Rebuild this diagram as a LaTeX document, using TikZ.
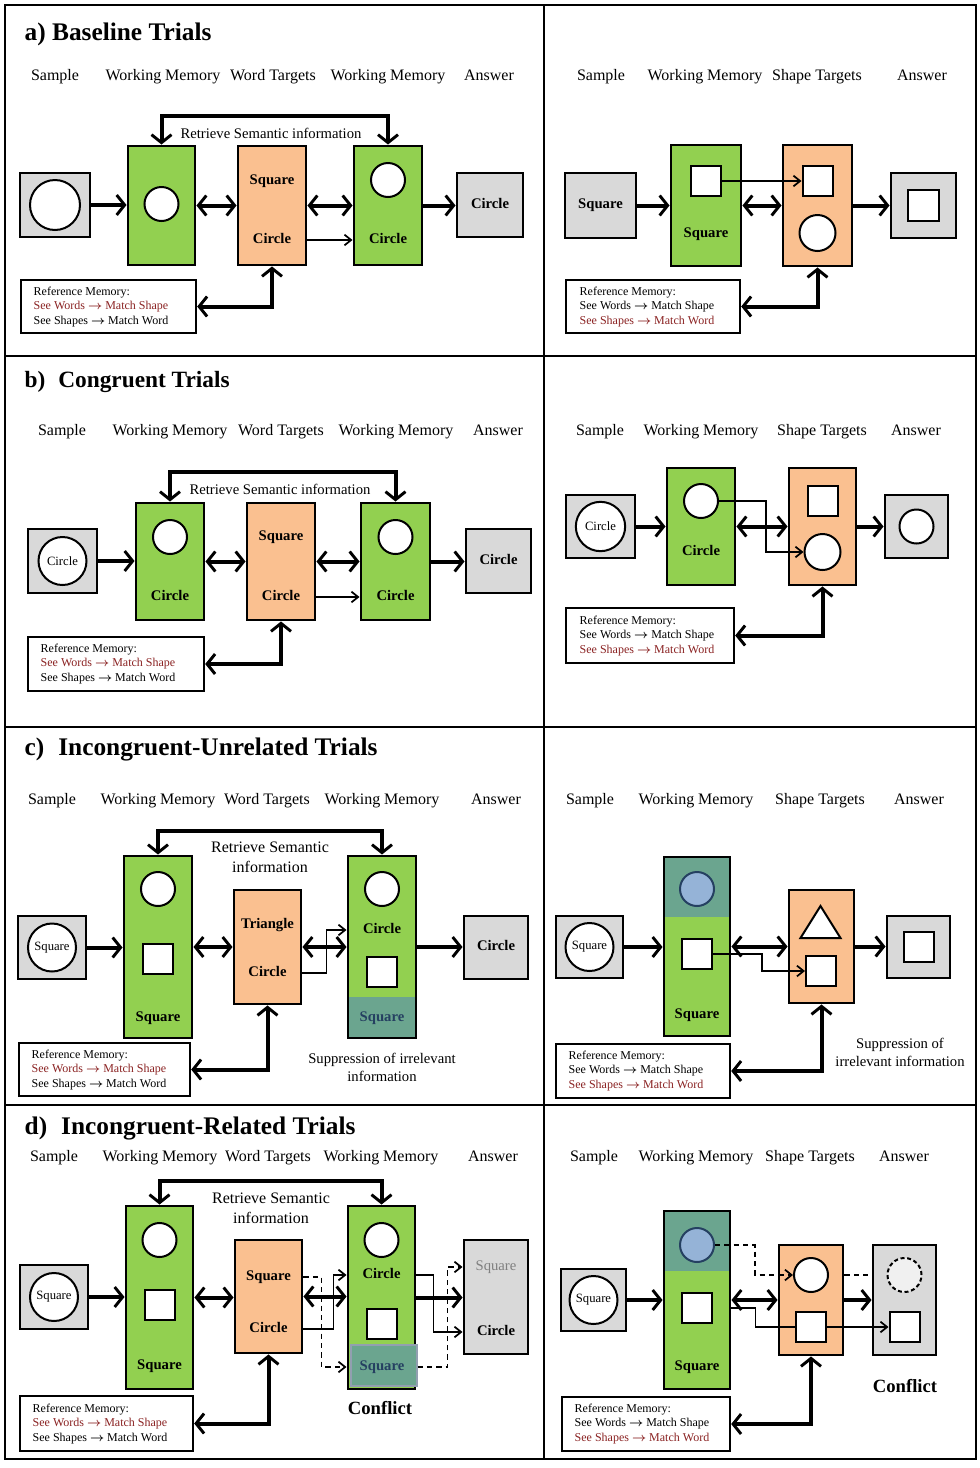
\documentclass[tikz,border=0pt]{standalone}
\usepackage{fontspec}
\setmainfont{Liberation Serif}
\usetikzlibrary{arrows.meta,fit}

\definecolor{wmgreen}{HTML}{92D050}
\definecolor{tgorange}{HTML}{FAC090}
\definecolor{iogray}{HTML}{D9D9D9}
\definecolor{supteal}{HTML}{6BA58F}
\definecolor{memblue}{HTML}{95B3D7}
\definecolor{deepblue}{HTML}{254061}
\definecolor{refred}{HTML}{8B2323}
\definecolor{faintgray}{HTML}{F0F0F0}
\newcommand\goesto{{\boldmath$\rightarrow$}}

\begin{document}
\begin{tikzpicture}[x=0.75pt, y=-0.75pt,
    frame/.style={line width=2.2pt},
    box/.style={draw, line width=2.2pt, inner sep=0pt},
    wm/.style={box, fill=wmgreen},
    tg/.style={box, fill=tgorange},
    io/.style={box, fill=iogray},
    supp/.style={fill=supteal, inner sep=0pt},
    mem/.style={draw, line width=1.8pt, fill=white, inner sep=0pt},
    shp/.style={draw, line width=1.5pt, fill=white, inner sep=0pt},
    circ/.style={shp, circle, minimum size=25.5pt},
    sqr/.style={shp, minimum size=22.5pt},
    smp/.style={shp, circle, minimum size=36pt, font=\fontsize{9.5}{11}\selectfont},
    hdr/.style={text height=1.5ex, text depth=.45ex, font=\fontsize{12}{14}\selectfont},
    ttl/.style={anchor=west, font=\bfseries\fontsize{19}{22}\selectfont},
    wrd/.style={text height=1.5ex, text depth=.45ex, font=\bfseries\fontsize{11}{13}\selectfont},
    note/.style={align=center, font=\fontsize{12}{15}\selectfont},
    memtxt/.style={anchor=west, align=left, font=\fontsize{9}{11}\selectfont},
    big/.style={line width=3pt, >={Straight Barb[length=6pt,width=15pt,line width=2.2pt]}},
    fine/.style={line width=1.3pt, >={Straight Barb[length=5pt,width=8pt]}},
    dsh/.style={dash pattern=on 4pt off 3pt}]
  \fill[white] (0,0) rectangle (980,1468);
  \useasboundingbox (0,0) rectangle (980,1468);

  % a) baseline, word targets
  \node[ttl] (awTi) at (20,34) {a) Baseline Trials};
  \node[hdr] (awH1) at (55,77) {Sample};
  \node[hdr] (awH2) at (163,77) {Working Memory};
  \node[hdr] (awH3) at (273,77) {Word Targets};
  \node[hdr] (awH4) at (388,77) {Working Memory};
  \node[hdr] (awH5) at (489,77) {Answer};
  \node[io, fit={(20,173) (90,237)}] (awS) {};
  \node[circ, minimum size=37.5pt] (awSc) at (awS) {};
  \node[wm, fit={(128,146) (195,265)}] (awW1) {};
  \node[circ] (awW1c) at (161.5,204) {};
  \node[tg, fit={(238,146) (306,265)}] (awT) {};
  \node[wrd] (awTs) at (272,181) {Square};
  \node[wrd] (awTc) at (272,240) {Circle};
  \node[wm, fit={(354,146) (422,265)}] (awW2) {};
  \node[circ] (awW2c) at (388,180) {};
  \node[wrd] (awW2t) at (388,240) {Circle};
  \node[io, fit={(457,173) (523,237)}] (awA) {};
  \node[wrd] (awAt) at (awA) {Circle};
  \node[note, font=\fontsize{11}{13}\selectfont] (awR) at (271,133) {Retrieve Semantic information};
  \draw[big,->] (awS.east) -- (awS.east -| awW1.west);
  \draw[big,<->] (awW1.east) -- (awW1.east -| awT.west);
  \draw[big,<->] (awT.east) -- (awT.east -| awW2.west);
  \draw[fine,->] (awTc -| awT.east) -- (awTc -| awW2.west);
  \draw[big,->] (awW2.east) -- (awW2.east -| awA.west);
  \draw[big,<->] (awW1.north) -- ++(0,-29) -| (awW2.north);
  \node[mem, fit={(21,280) (196,333)}] (awM) {};
  \node[memtxt] (awMt) at (29,307) {Reference Memory:\\\textcolor{refred}{See Words \goesto{} Match Shape}\\See Shapes \goesto{} Match Word};
  \draw[big,<->] (awM.east) -| (awT.south);

  % a) baseline, shape targets
  \node[hdr] (asH1) at (601,77) {Sample};
  \node[hdr] (asH2) at (705,77) {Working Memory};
  \node[hdr] (asH3) at (817,77) {Shape Targets};
  \node[hdr] (asH4) at (922,77) {Answer};
  \node[io, fit={(565,173) (636,238)}] (asS) {};
  \node[wrd] (asSt) at (asS) {Square};
  \node[wm, fit={(671,145) (741,266)}] (asW) {};
  \node[sqr] (asWq) at (706,181) {};
  \node[wrd] (asWt) at (706,234) {Square};
  \node[tg, fit={(783,145) (852,266)}] (asT) {};
  \node[sqr] (asTq) at (817.5,181) {};
  \node[circ, minimum size=27pt] (asTc) at (817.5,233) {};
  \node[io, fit={(891,173) (956,238)}] (asA) {};
  \node[sqr, minimum size=23.5pt] (asAq) at (asA) {};
  \draw[big,->] (asS.east) -- (asS.east -| asW.west);
  \draw[big,<->] (asW.east) -- (asW.east -| asT.west);
  \draw[fine,->] (asWq.east) -- (asTq.west);
  \draw[big,->] (asT.east) -- (asT.east -| asA.west);
  \node[mem, fit={(566,280) (740,333)}] (asM) {};
  \node[memtxt] (asMt) at (575,307) {Reference Memory:\\See Words \goesto{} Match Shape\\\textcolor{refred}{See Shapes \goesto{} Match Word}};
  \draw[big,<->] (asM.east) -| (asT.south);

  % b) congruent, word targets
  \node[ttl, font=\bfseries\fontsize{17.5}{21}\selectfont] (bwTi) at (20,382) {b)\hspace{0.55em}Congruent Trials};
  \node[hdr] (bwH1) at (62,432) {Sample};
  \node[hdr] (bwH2) at (170,432) {Working Memory};
  \node[hdr] (bwH3) at (281,432) {Word Targets};
  \node[hdr] (bwH4) at (396,432) {Working Memory};
  \node[hdr] (bwH5) at (498,432) {Answer};
  \node[io, fit={(28,529) (97,593)}] (bwS) {};
  \node[smp] (bwSc) at (bwS) {Circle};
  \node[wm, fit={(136,503) (204,620)}] (bwW1) {};
  \node[circ] (bwW1c) at (170,537) {};
  \node[wrd] (bwW1t) at (170,597) {Circle};
  \node[tg, fit={(247,503) (315,620)}] (bwT) {};
  \node[wrd] (bwTs) at (281,537) {Square};
  \node[wrd] (bwTc) at (281,597) {Circle};
  \node[wm, fit={(361,503) (430,620)}] (bwW2) {};
  \node[circ] (bwW2c) at (395.5,537) {};
  \node[wrd] (bwW2t) at (395.5,597) {Circle};
  \node[io, fit={(466,529) (531,593)}] (bwA) {};
  \node[wrd] (bwAt) at (bwA) {Circle};
  \node[note, font=\fontsize{11}{13}\selectfont] (bwR) at (280,489) {Retrieve Semantic information};
  \draw[big,->] (bwS.east) -- (bwS.east -| bwW1.west);
  \draw[big,<->] (bwW1.east) -- (bwW1.east -| bwT.west);
  \draw[big,<->] (bwT.east) -- (bwT.east -| bwW2.west);
  \draw[fine,->] (bwTc -| bwT.east) -- (bwTc -| bwW2.west);
  \draw[big,->] (bwW2.east) -- (bwW2.east -| bwA.west);
  \draw[big,<->] (bwW1.north) -- ++(0,-30) -| (bwW2.north);
  \node[mem, fit={(28,637) (204,691)}] (bwM) {};
  \node[memtxt] (bwMt) at (36,664) {Reference Memory:\\\textcolor{refred}{See Words \goesto{} Match Shape}\\See Shapes \goesto{} Match Word};
  \draw[big,<->] (bwM.east) -| (bwT.south);

  % b) congruent, shape targets
  \node[hdr] (bsH1) at (600,432) {Sample};
  \node[hdr] (bsH2) at (701,432) {Working Memory};
  \node[hdr] (bsH3) at (822,432) {Shape Targets};
  \node[hdr] (bsH4) at (916,432) {Answer};
  \node[io, fit={(566,495) (635,558)}] (bsS) {};
  \node[smp, minimum size=37pt] (bsSc) at (bsS) {Circle};
  \node[wm, fit={(667,468) (735,585)}] (bsW) {};
  \node[circ] (bsWc) at (701,501) {};
  \node[wrd] (bsWt) at (701,552) {Circle};
  \node[tg, fit={(789,468) (856,585)}] (bsT) {};
  \node[sqr] (bsTq) at (822.5,501) {};
  \node[circ, minimum size=27pt] (bsTc) at (822.5,552) {};
  \node[io, fit={(885,495) (948,558)}] (bsA) {};
  \node[circ] (bsAc) at (bsA) {};
  \draw[big,->] (bsS.east) -- (bsS.east -| bsW.west);
  \draw[big,<->] (bsW.east) -- (bsW.east -| bsT.west);
  \draw[fine,->] (bsWc.east) -- ++(47,0) |- (bsTc.west);
  \draw[big,->] (bsT.east) -- (bsT.east -| bsA.west);
  \node[mem, fit={(566,608) (734,663)}] (bsM) {};
  \node[memtxt] (bsMt) at (575,636) {Reference Memory:\\See Words \goesto{} Match Shape\\\textcolor{refred}{See Shapes \goesto{} Match Word}};
  \draw[big,<->] (bsM.east) -| (bsT.south);

  % c) incongruent-unrelated, word targets
  \node[ttl] (cwTi) at (20,749) {c)\hspace{0.55em}Incongruent-Unrelated Trials};
  \node[hdr] (cwH1) at (52,801) {Sample};
  \node[hdr] (cwH2) at (158,801) {Working Memory};
  \node[hdr] (cwH3) at (267,801) {Word Targets};
  \node[hdr] (cwH4) at (382,801) {Working Memory};
  \node[hdr] (cwH5) at (496,801) {Answer};
  \node[io, fit={(18,916) (86,979)}] (cwS) {};
  \node[smp] (cwSc) at (cwS) {Square};
  \node[wm, fit={(124,856) (192,1038)}] (cwW1) {};
  \node[circ] (cwW1c) at (158,889) {};
  \node[sqr] (cwW1q) at (158,959) {};
  \node[wrd] (cwW1t) at (158,1018) {Square};
  \node[tg, fit={(234,890) (301,1004)}] (cwT) {};
  \node[wrd] (cwTt) at (267.5,925) {Triangle};
  \node[wrd] (cwTc) at (267.5,973) {Circle};
  \node[wm, fit={(348,856) (416,1038)}] (cwW2) {};
  \node[supp, fit={(348,997) (416,1038)}] (cwW2x) {};
  \node[box, fit={(348,856) (416,1038)}] (cwW2o) {};
  \node[circ] (cwW2c) at (382,889) {};
  \node[wrd] (cwW2t) at (382,930) {Circle};
  \node[sqr] (cwW2q) at (382,972) {};
  \node[wrd, text=deepblue] (cwW2s) at (382,1018) {Square};
  \node[io, fit={(464,916) (528,979)}] (cwA) {};
  \node[wrd] (cwAt) at (cwA) {Circle};
  \node[note] (cwR) at (270,857.5) {Retrieve Semantic\\information};
  \node[note, font=\fontsize{11}{13.5}\selectfont] (cwU) at (382,1067) {Suppression of irrelevant\\information};
  \draw[big,->] (cwS.east) -- (cwS.east -| cwW1.west);
  \draw[big,<->] (cwW1.east) -- (cwW1.east -| cwT.west);
  \draw[big,<->] (cwT.east) -- (cwT.east -| cwW2.west);
  \draw[fine,->] (cwTc -| cwT.east) -- ++(24,0) |- (cwW2t -| cwW2.west);
  \draw[big,->] (cwW2.east) -- (cwW2.east -| cwA.west);
  \draw[big,<->] (cwW1.north) -- ++(0,-24) -| (cwW2.north);
  \node[mem, fit={(19,1043) (190,1096)}] (cwM) {};
  \node[memtxt] (cwMt) at (27,1070) {Reference Memory:\\\textcolor{refred}{See Words \goesto{} Match Shape}\\See Shapes \goesto{} Match Word};
  \draw[big,<->] (cwM.east) -| (cwT.south);

  % c) incongruent-unrelated, shape targets
  \node[hdr] (csH1) at (590,801) {Sample};
  \node[hdr] (csH2) at (696,801) {Working Memory};
  \node[hdr] (csH3) at (820,801) {Shape Targets};
  \node[hdr] (csH4) at (919,801) {Answer};
  \node[io, fit={(556,916) (623,978)}] (csS) {};
  \node[smp] (csSc) at (csS) {Square};
  \node[wm, fit={(664,857) (730,1036)}] (csW) {};
  \node[supp, fit={(664,857) (730,917)}] (csWx) {};
  \node[box, fit={(664,857) (730,1036)}] (csWo) {};
  \node[circ, fill=memblue, draw=deepblue] (csWc) at (697,889) {};
  \node[sqr] (csWq) at (697,954) {};
  \node[wrd] (csWt) at (697,1015) {Square};
  \node[tg, fit={(789,890) (854,1003)}] (csT) {};
  \draw[shp] (820.5,906) -- (840.5,938) -- (800.5,938) -- cycle;
  \node[sqr] (csTq) at (821,971) {};
  \node[io, fit={(887,916) (950,978)}] (csA) {};
  \node[sqr] (csAq) at (csA) {};
  \node[note, font=\fontsize{11}{13.5}\selectfont] (csU) at (900,1052) {Suppression of\\irrelevant information};
  \draw[big,->] (csS.east) -- (csS.east -| csW.west);
  \draw[big,<->] (csW.east) -- (csW.east -| csT.west);
  \draw[fine,->] (csWq.east) -- ++(49,0) |- (csTq.west);
  \draw[big,->] (csT.east) -- (csT.east -| csA.west);
  \node[mem, fit={(556,1044) (730,1098)}] (csM) {};
  \node[memtxt] (csMt) at (564,1071) {Reference Memory:\\See Words \goesto{} Match Shape\\\textcolor{refred}{See Shapes \goesto{} Match Word}};
  \draw[big,<->] (csM.east) -| (csT.south);

  % d) incongruent-related, word targets
  \node[ttl] (dwTi) at (20,1128) {d)\hspace{0.55em}Incongruent-Related Trials};
  \node[hdr] (dwH1) at (54,1158) {Sample};
  \node[hdr] (dwH2) at (160,1158) {Working Memory};
  \node[hdr] (dwH3) at (268,1158) {Word Targets};
  \node[hdr] (dwH4) at (381,1158) {Working Memory};
  \node[hdr] (dwH5) at (493,1158) {Answer};
  \node[io, fit={(20,1265) (88,1329)}] (dwS) {};
  \node[smp] (dwSc) at (dwS) {Square};
  \node[wm, fit={(126,1206) (193,1389)}] (dwW1) {};
  \node[circ] (dwW1c) at (159.5,1240) {};
  \node[sqr] (dwW1q) at (159.5,1305) {};
  \node[wrd] (dwW1t) at (159.5,1366) {Square};
  \node[tg, fit={(235,1240) (302,1353)}] (dwT) {};
  \node[wrd] (dwTs) at (268.5,1277) {Square};
  \node[wrd] (dwTc) at (268.5,1329) {Circle};
  \node[wm, fit={(348,1206) (415,1389)}] (dwW2) {};
  \node[circ] (dwW2c) at (381.5,1240) {};
  \node[wrd] (dwW2t) at (381.5,1275) {Circle};
  \node[sqr] (dwW2q) at (381.5,1324) {};
  \node[supp, draw=deepblue!50, line width=0.8pt, fit={(351,1345) (417,1386)}] (dwW2x) {};
  \node[wrd, text=deepblue] (dwW2s) at (382,1367) {Square};
  \node[io, fit={(464,1240) (528,1354)}] (dwA) {};
  \node[wrd, font=\fontsize{11}{13}\selectfont, text=gray] (dwAs) at (496,1267) {Square};
  \node[wrd] (dwAc) at (496,1332) {Circle};
  \node[wrd, font=\bfseries\fontsize{14}{17}\selectfont] (dwX) at (380,1411) {Conflict};
  \node[note] (dwR) at (271,1208) {Retrieve Semantic\\information};
  \draw[big,->] (dwS.east) -- (dwS.east -| dwW1.west);
  \draw[big,<->] (dwW1.east) -- (dwW1.east -| dwT.west);
  \draw[big,<->] (dwT.east) -- (dwT.east -| dwW2.west);
  \draw[big,->] (dwW2.east) -- (dwW2.east -| dwA.west);
  \draw[fine,->] (dwTc -| dwT.east) -- ++(30,0) |- (dwW2t -| dwW2.west);
  \draw[fine,dsh,->] (dwTs -| dwT.east) -- ++(18,0) |- (dwW2s -| dwW2.west);
  \draw[fine,->] (dwW2t -| dwW2.east) -- ++(17,0) |- (dwAc -| dwA.west);
  \draw[fine,dsh,->] (dwW2s -| dwW2x.east) -- ++(30,0) |- (dwAs -| dwA.west);
  \draw[big,<->] (dwW1.north) -- ++(0,-24) -| (dwW2.north);
  \node[mem, fit={(20,1396) (193,1451)}] (dwM) {};
  \node[memtxt] (dwMt) at (28,1424) {Reference Memory:\\\textcolor{refred}{See Words \goesto{} Match Shape}\\See Shapes \goesto{} Match Word};
  \draw[big,<->] (dwM.east) -| (dwT.south);

  % d) incongruent-related, shape targets
  \node[hdr] (dsH1) at (594,1158) {Sample};
  \node[hdr] (dsH2) at (696,1158) {Working Memory};
  \node[hdr] (dsH3) at (810,1158) {Shape Targets};
  \node[hdr] (dsH4) at (904,1158) {Answer};
  \node[io, fit={(561,1269) (626,1331)}] (dsS) {};
  \node[smp] (dsSc) at (dsS) {Square};
  \node[wm, fit={(664,1211) (730,1389)}] (dsW) {};
  \node[supp, fit={(664,1211) (730,1271)}] (dsWx) {};
  \node[box, fit={(664,1211) (730,1389)}] (dsWo) {};
  \node[circ, fill=memblue, draw=deepblue] (dsWc) at (697,1245) {};
  \node[sqr] (dsWq) at (697,1308) {};
  \node[wrd] (dsWt) at (697,1367) {Square};
  \node[tg, fit={(779,1245) (843,1355)}] (dsT) {};
  \node[circ] (dsTc) at (811,1275) {};
  \node[sqr] (dsTq) at (811,1327) {};
  \node[io, fit={(873,1245) (936,1355)}] (dsA) {};
  \node[circ, fill=faintgray, dash pattern=on 3pt off 2pt] (dsAc) at (904.5,1275) {};
  \node[sqr] (dsAq) at (904.5,1327) {};
  \node[wrd, font=\bfseries\fontsize{14}{17}\selectfont] (dsX) at (905,1389) {Conflict};
  \draw[big,->] (dsS.east) -- (dsS.east -| dsW.west);
  \draw[big,<->] (dsW.east) -- (dsW.east -| dsT.west);
  \draw[big,->] (dsT.east) -- (dsT.east -| dsA.west);
  \draw[fine,dsh,->] (dsWc.east) -- ++(40,0) |- (dsTc.west);
  \draw[fine,dsh] (dsTc -| dsT.east) -- (dsTc -| dsA.west);
  \draw[fine] (dsWq -| dsW.east) -- ++(24,0) |- (dsTq.west);
  \draw[fine,->] (dsTq.east) -- (dsAq.west);
  \node[mem, fit={(562,1397) (730,1451)}] (dsM) {};
  \node[memtxt] (dsMt) at (570,1424) {Reference Memory:\\See Words \goesto{} Match Shape\\\textcolor{refred}{See Shapes \goesto{} Match Word}};
  \draw[big,<->] (dsM.east) -| (dsT.south);

  % panel frames
  \draw[frame] (5,5) rectangle (976,1459);
  \draw[frame] (5,356) -- (976,356);
  \draw[frame] (5,727) -- (976,727);
  \draw[frame] (5,1105) -- (976,1105);
  \draw[frame] (544,5) -- (544,1459);
\end{tikzpicture}
\end{document}
